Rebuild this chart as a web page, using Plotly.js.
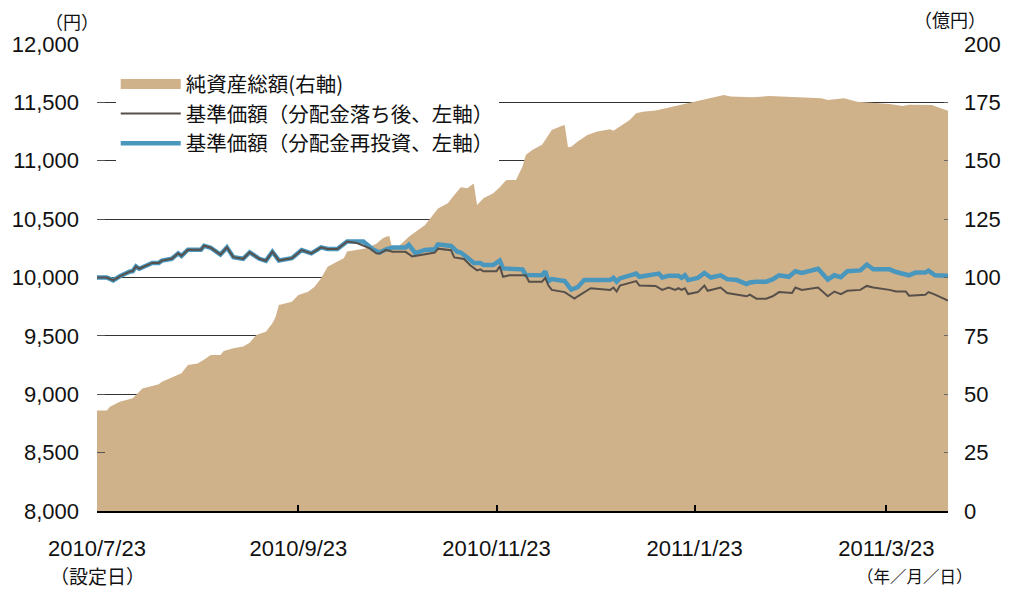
<!DOCTYPE html>
<html>
<head>
<meta charset="utf-8">
<script src="https://cdn.plot.ly/plotly-3.0.1.min.js"></script>
<style>html,body{margin:0;padding:0;background:#fff;}#chart{width:1021px;height:590px;}</style>
</head>
<body>
<div id="chart"></div>
<script>
// 純資産総額（億円, 右軸）
const assetDates = ["2010-07-23","2010-07-26","2010-07-27","2010-07-30","2010-08-03","2010-08-04","2010-08-06","2010-08-09","2010-08-11","2010-08-12","2010-08-15","2010-08-18","2010-08-20","2010-08-23","2010-08-25","2010-08-27","2010-08-30","2010-08-31","2010-09-03","2010-09-06","2010-09-08","2010-09-10","2010-09-13","2010-09-15","2010-09-16","2010-09-17","2010-09-21","2010-09-23","2010-09-26","2010-09-28","2010-09-30","2010-10-02","2010-10-05","2010-10-07","2010-10-08","2010-10-14","2010-10-17","2010-10-19","2010-10-20","2010-10-21","2010-10-22","2010-10-24","2010-10-27","2010-11-01","2010-11-05","2010-11-06","2010-11-08","2010-11-10","2010-11-12","2010-11-14","2010-11-16","2010-11-17","2010-11-19","2010-11-22","2010-11-24","2010-11-26","2010-11-29","2010-12-01","2010-12-02","2010-12-04","2010-12-07","2010-12-08","2010-12-10","2010-12-13","2010-12-14","2010-12-15","2010-12-16","2010-12-18","2010-12-21","2010-12-24","2010-12-28","2010-12-29","2010-12-31","2011-01-03","2011-01-05","2011-01-06","2011-01-07","2011-01-11","2011-01-14","2011-01-19","2011-01-23","2011-01-27","2011-02-01","2011-02-03","2011-02-10","2011-02-15","2011-02-19","2011-02-23","2011-02-25","2011-03-03","2011-03-05","2011-03-10","2011-03-14","2011-03-18","2011-03-24","2011-03-28","2011-03-30","2011-04-06","2011-04-09","2011-04-11"];
const assetValues = [43.0,43.0,44.7,46.8,48.3,49.7,52.5,53.5,54.3,55.4,57.3,59.0,62.5,63.2,64.9,66.8,66.8,68.5,69.7,70.4,72.1,75.4,76.8,80.4,83.2,88.2,89.6,92.5,93.9,96.0,99.7,104.6,106.8,108.2,111.1,112.5,114.5,116.8,117.5,117.8,112.0,113.5,117.5,122.5,129.6,130.3,131.8,135.3,138.6,138.2,140.3,131.1,133.9,136.1,138.6,141.8,141.8,147.5,152.5,154.6,156.8,158.9,163.2,164.9,165.3,155.8,156.0,158.2,161.0,162.5,163.5,162.9,164.6,167.5,170.3,170.6,171.0,171.5,172.5,173.9,175.3,176.8,178.2,177.5,177.2,177.7,177.5,177.2,177.2,176.8,176.0,176.8,175.3,174.9,174.3,173.5,174.0,173.9,172.5,171.4];

// 基準価額（分配金再投資, 左軸）
const reinvDates = ["2010-07-23","2010-07-26","2010-07-28","2010-07-30","2010-08-02","2010-08-03","2010-08-04","2010-08-05","2010-08-09","2010-08-11","2010-08-12","2010-08-15","2010-08-17","2010-08-18","2010-08-20","2010-08-24","2010-08-25","2010-08-27","2010-08-30","2010-09-01","2010-09-03","2010-09-06","2010-09-08","2010-09-11","2010-09-13","2010-09-15","2010-09-17","2010-09-21","2010-09-24","2010-09-27","2010-09-30","2010-10-02","2010-10-05","2010-10-08","2010-10-13","2010-10-16","2010-10-18","2010-10-20","2010-10-22","2010-10-26","2010-10-27","2010-10-29","2010-11-01","2010-11-04","2010-11-05","2010-11-09","2010-11-11","2010-11-12","2010-11-14","2010-11-16","2010-11-18","2010-11-19","2010-11-22","2010-11-24","2010-11-25","2010-11-30","2010-12-01","2010-12-02","2010-12-07","2010-12-08","2010-12-09","2010-12-10","2010-12-13","2010-12-14","2010-12-16","2010-12-18","2010-12-20","2010-12-28","2010-12-29","2010-12-30","2010-12-31","2011-01-05","2011-01-06","2011-01-11","2011-01-12","2011-01-13","2011-01-15","2011-01-18","2011-01-19","2011-01-20","2011-01-21","2011-01-24","2011-01-26","2011-01-28","2011-01-31","2011-02-02","2011-02-05","2011-02-08","2011-02-09","2011-02-11","2011-02-14","2011-02-16","2011-02-18","2011-02-21","2011-02-23","2011-02-25","2011-03-02","2011-03-05","2011-03-07","2011-03-09","2011-03-11","2011-03-15","2011-03-17","2011-03-19","2011-03-24","2011-03-26","2011-03-30","2011-04-01","2011-04-04","2011-04-05","2011-04-07","2011-04-11"];
const reinvValues = [10000,10000,9975,10010,10050,10055,10095,10075,10125,10125,10145,10160,10207,10185,10238,10238,10272,10255,10196,10258,10174,10160,10216,10160,10143,10221,10146,10165,10235,10207,10258,10244,10244,10308,10308,10240,10214,10242,10256,10256,10280,10208,10236,10242,10284,10270,10220,10214,10172,10124,10125,10108,10108,10145,10078,10075,10070,10022,10019,10053,9969,9986,9978,9969,9897,9917,9978,9978,9997,9964,9992,10033,10006,10033,10033,10000,10014,10014,9997,10019,9978,9997,10039,10000,10019,9986,9978,9944,9958,9964,9964,9983,10019,10006,10053,10039,10075,9983,10019,10003,10053,10061,10111,10070,10070,10047,10019,10042,10042,10058,10019,10014];

// 基準価額（分配金落ち後, 左軸）
const navDates = ["2010-07-23","2010-07-26","2010-07-28","2010-07-30","2010-08-02","2010-08-03","2010-08-04","2010-08-05","2010-08-09","2010-08-11","2010-08-12","2010-08-15","2010-08-17","2010-08-18","2010-08-20","2010-08-24","2010-08-25","2010-08-27","2010-08-30","2010-09-01","2010-09-03","2010-09-06","2010-09-08","2010-09-11","2010-09-13","2010-09-15","2010-09-17","2010-09-21","2010-09-24","2010-09-27","2010-09-30","2010-10-02","2010-10-05","2010-10-08","2010-10-11","2010-10-15","2010-10-17","2010-10-18","2010-10-20","2010-10-22","2010-10-26","2010-10-28","2010-11-01","2010-11-04","2010-11-05","2010-11-09","2010-11-10","2010-11-13","2010-11-15","2010-11-17","2010-11-18","2010-11-19","2010-11-23","2010-11-24","2010-11-25","2010-11-27","2010-12-02","2010-12-03","2010-12-07","2010-12-08","2010-12-09","2010-12-10","2010-12-14","2010-12-17","2010-12-18","2010-12-21","2010-12-22","2010-12-28","2010-12-29","2010-12-30","2010-12-31","2011-01-05","2011-01-06","2011-01-11","2011-01-13","2011-01-15","2011-01-17","2011-01-18","2011-01-19","2011-01-20","2011-01-21","2011-01-24","2011-01-26","2011-01-27","2011-01-31","2011-02-02","2011-02-08","2011-02-09","2011-02-11","2011-02-14","2011-02-16","2011-02-18","2011-02-22","2011-02-23","2011-02-25","2011-03-02","2011-03-05","2011-03-07","2011-03-09","2011-03-11","2011-03-15","2011-03-17","2011-03-19","2011-03-24","2011-03-26","2011-03-29","2011-03-30","2011-04-04","2011-04-05","2011-04-07","2011-04-11"];
const navValues = [10000,10000,9975,10010,10050,10055,10095,10075,10125,10125,10145,10160,10207,10185,10238,10238,10272,10255,10196,10258,10174,10160,10216,10160,10143,10221,10146,10165,10235,10207,10258,10244,10244,10308,10295,10250,10208,10205,10236,10220,10220,10181,10200,10214,10247,10234,10172,10158,10103,10061,10070,10053,10053,10097,10006,10019,10019,9964,9964,9997,9931,9894,9875,9819,9839,9894,9908,9894,9914,9880,9931,9969,9931,9928,9894,9914,9894,9908,9894,9908,9858,9875,9931,9886,9914,9867,9839,9853,9819,9819,9839,9875,9867,9914,9894,9914,9839,9880,9858,9886,9894,9928,9914,9894,9880,9880,9844,9853,9875,9853,9803];

const tickDates = ["2010-07-23","2010-09-23","2010-11-23","2011-01-23","2011-03-23"];
const tickLabels = ["2010/7/23","2010/9/23","2010/11/23","2011/1/23","2011/3/23"];

const seriesNames = ["純資産総額(右軸)", "基準価額（分配金落ち後、左軸）", "基準価額（分配金再投資、左軸）"];

const TAN = "#CFB18A";
const BLUE = "#4A97BE";
const DARK = "#57504A";
const numFont = "Liberation Sans, Arial, Noto Sans CJK JP, sans-serif";
const jpFont = "Noto Sans CJK JP, sans-serif";

const traces = [
  {
    x: assetDates, y: assetValues, yaxis: "y", type: "scatter", mode: "lines",
    fill: "tozeroy", fillcolor: TAN, line: {width: 0, color: TAN},
    showlegend: false, hoverinfo: "skip"
  },
  {
    x: [null], y: [null], yaxis: "y", type: "scatter", mode: "lines",
    name: seriesNames[0], line: {width: 17, color: TAN}, legendrank: 1
  },
  {
    x: reinvDates, y: reinvValues, yaxis: "y2", type: "scatter", mode: "lines",
    name: seriesNames[2], line: {width: 4.5, color: BLUE}, legendrank: 3
  },
  {
    x: navDates, y: navValues, yaxis: "y2", type: "scatter", mode: "lines",
    name: seriesNames[1], line: {width: 2, color: DARK}, legendrank: 2
  }
];

const layout = {
  width: 1021, height: 590,
  margin: {l: 97, r: 73, t: 44, b: 79},
  paper_bgcolor: "#fff", plot_bgcolor: "#fff",
  font: {family: numFont, color: "#111", size: 22},
  showlegend: true,
  legend: {
    x: 0.022, y: 0.957, xanchor: "left", yanchor: "top",
    bgcolor: "#fff", borderwidth: 0, itemwidth: 60,
    font: {family: jpFont, size: 20.5, color: "#111"},
    traceorder: "normal"
  },
  xaxis: {
    type: "date", range: ["2010-07-23", "2011-04-11"],
    tickmode: "array", tickvals: tickDates, ticktext: tickLabels,
    ticks: "inside", ticklen: 6, tickwidth: 2, tickcolor: "#000",
    showline: true, linewidth: 2, linecolor: "#000",
    showgrid: false, zeroline: false,
    tickfont: {family: numFont, size: 22, color: "#111"},
    ticklabelstandoff: 17
  },
  yaxis: {
    side: "right", range: [0, 200], dtick: 25, tick0: 0,
    showgrid: true, gridcolor: "#333", gridwidth: 1,
    ticks: "inside", ticklen: 4, tickcolor: "#666",
    showline: false, zeroline: false,
    tickfont: {family: numFont, size: 22, color: "#111"},
    ticklabelstandoff: 15
  },
  yaxis2: {
    overlaying: "y", side: "left", range: [8000, 12000], dtick: 500, tick0: 8000,
    tickformat: ",d", showgrid: false, zeroline: false, showline: false,
    ticks: "inside", ticklen: 8, tickcolor: "#555",
    tickfont: {family: numFont, size: 22, color: "#111"},
    ticklabelstandoff: 17
  },
  annotations: [
    {text: "（円）", xref: "paper", yref: "paper", x: -0.0288, y: 1.050, xanchor: "center", yanchor: "middle", showarrow: false, font: {family: jpFont, size: 18, color: "#111"}},
    {text: "（億円）", xref: "paper", yref: "paper", x: 1.0024, y: 1.0525, xanchor: "center", yanchor: "middle", showarrow: false, font: {family: jpFont, size: 18, color: "#111"}},
    {text: "（設定日）", xref: "paper", yref: "paper", x: 0.0006, y: -0.138, xanchor: "center", yanchor: "middle", showarrow: false, font: {family: jpFont, size: 19, color: "#111"}},
    {text: "（年／月／日）", xref: "paper", yref: "paper", x: 0.9618, y: -0.140, xanchor: "center", yanchor: "middle", showarrow: false, font: {family: jpFont, size: 16.5, color: "#111"}}
  ]
};

Plotly.newPlot("chart", traces, layout, {displayModeBar: false, staticPlot: true});
</script>
</body>
</html>
